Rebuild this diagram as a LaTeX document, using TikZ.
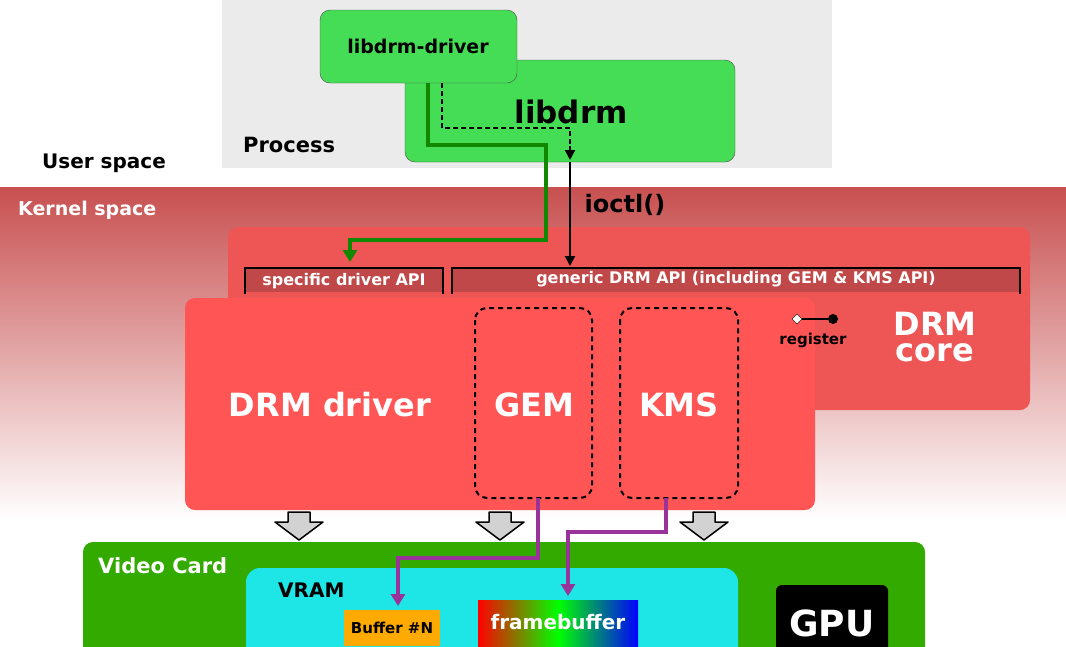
\documentclass[tikz,border=0pt]{standalone}
\usepackage{fontspec}
\setmainfont{DejaVu Sans}
\usetikzlibrary{arrows.meta,shapes.geometric}
\definecolor{ugray}{HTML}{EBEBEB}
\definecolor{lgreen}{HTML}{44DD55}
\definecolor{kred}{HTML}{C85050}
\definecolor{core}{HTML}{EE5555}
\definecolor{drv}{HTML}{FF5555}
\definecolor{bar}{HTML}{C04848}
\definecolor{vc}{HTML}{33AA00}
\definecolor{vram}{HTML}{1EE6E6}
\definecolor{buf}{HTML}{FFAA00}
\definecolor{purp}{HTML}{993399}
\definecolor{dgreen}{HTML}{118800}
\begin{document}
\begin{tikzpicture}[x=1pt,y=-1pt,font=\bfseries,
  box/.style={rounded corners=10pt},
  lbl/.style={inner sep=0pt,anchor=west},
  dbox/.style={draw=black,line width=2pt,dash pattern=on 5pt off 4pt,rounded corners=12pt},
  ga/.style={draw=black,line width=1.5pt,fill=gray!35,line join=round}]
\useasboundingbox (0,0) rectangle (1066,646);
\fill[white] (0,0) rectangle (1066,646);
\fill[ugray] (222,0) rectangle (832,168);
\shade[top color=kred,bottom color=white] (0,187) rectangle (1066,520);
\node[lbl,font=\bfseries\fontsize{20}{20}\selectfont] (us) at (42,163) {User space};
\node[lbl,white,font=\bfseries\fontsize{19}{19}\selectfont] (ks) at (18,210) {Kernel space};
\node[lbl,font=\bfseries\fontsize{21}{21}\selectfont] (proc) at (243,145) {Process};
% libdrm
\draw[box,fill=lgreen,draw=black!70] (405,60) rectangle (735,162);
\node[font=\bfseries\fontsize{31}{31}\selectfont] (libdrm) at (571,112) {libdrm};
\draw[box,fill=lgreen,draw=black!70] (320,10) rectangle (517,83);
\node[font=\bfseries\fontsize{19}{19}\selectfont] (ldd) at (418,46) {libdrm-driver};
% DRM core
\fill[core,rounded corners=10pt] (228,227) rectangle (1030,410);
\fill[bar] (245,268) rectangle (443,292);
\fill[bar] (452,268) rectangle (1020,292);
\draw[line width=2.5pt] (245,294) -- (245,268) -- (443,268) -- (443,294);
\draw[line width=2.5pt] (452,294) -- (452,268) -- (1020,268) -- (1020,294);
\node[white,font=\bfseries\fontsize{16}{16}\selectfont] (sapi) at (344,281) {specific driver API};
\node[white,font=\bfseries\fontsize{16}{16}\selectfont] (gapi) at (736,279) {generic DRM API (including GEM \& KMS API)};
\node[white,font=\bfseries\fontsize{32}{32}\selectfont] (core1) at (935,324) {DRM};
\node[white,font=\bfseries\fontsize{32}{32}\selectfont] (core2) at (935,353) {core};
% DRM driver
\fill[drv,rounded corners=10pt] (185,298) rectangle (815,510);
\node[white,font=\bfseries\fontsize{32}{32}\selectfont] (drvl) at (330,405) {DRM driver};
\draw[dbox] (475,308) rectangle (592,498);
\draw[dbox] (620,308) rectangle (738,498);
\node[white,font=\bfseries\fontsize{32}{32}\selectfont] (gem) at (534,405) {GEM};
\node[white,font=\bfseries\fontsize{32}{32}\selectfont] (kms) at (679,405) {KMS};
% register
\node[diamond,draw=black,fill=white,inner sep=0pt,minimum size=10pt] (dia) at (797,319) {};
\node[circle,fill=black,inner sep=0pt,minimum size=10pt] (cir) at (833,319) {};
\draw[line width=2.5pt] (dia) -- (cir);
\node[font=\bfseries\fontsize{15}{15}\selectfont] (reg) at (813,340) {register};
% arrows gray
\foreach \x in {299,500,704}
  \draw[ga] (\x-11,512) -- (\x+11,512) -- (\x+11,522) -- (\x+24,522) -- (\x,540) -- (\x-24,522) -- (\x-11,522) -- cycle;
% video card
\fill[vc,rounded corners=10pt] (83,542) rectangle (925,660);
\node[lbl,white,font=\bfseries\fontsize{21}{21}\selectfont] (vcl) at (98,566) {Video Card};
\fill[vram,rounded corners=14pt] (246,568) rectangle (738,670);
\node[lbl,font=\bfseries\fontsize{20}{20}\selectfont] (vr) at (278,590) {VRAM};
\fill[buf] (344,610) rectangle (440,646);
\node[font=\bfseries\fontsize{15}{15}\selectfont] (bn) at (392,628) {Buffer \#N};
\shade[left color=red,right color=blue,middle color=green] (478,600) rectangle (638,646);
\node[white,font=\bfseries\fontsize{20}{20}\selectfont] (fb) at (558,622) {framebuffer};
\fill[black,rounded corners=6pt] (776,585) rectangle (888,660);
\node[white,font=\bfseries\fontsize{36}{36}\selectfont,anchor=north] (gpu) at (832,606) {GPU};
% connectors
\coordinate (g0) at (428,83);
\coordinate (g3) at (350,262);
\draw[dgreen,line width=3.5pt,-{Triangle[length=12pt,width=14pt]}] (g0) -- (428,145) -- (546,145) -- (546,240) -- (350,240) -- (g3);
\coordinate (d0) at (442,83);
\coordinate (d1) at (570,160);
\draw[black,line width=2pt,dash pattern=on 5pt off 3pt] (d0) -- (442,128) -- (570,128) -- (570,148);
\draw[-{Triangle[length=10pt,width=10pt]},line width=2pt] (570,146) -- (d1);
\coordinate (i0) at (570,162);
\coordinate (i1) at (570,266);
\draw[line width=2pt,-{Triangle[length=10pt,width=10pt]}] (i0) -- (i1);
\node[font=\bfseries\fontsize{24}{24}\selectfont] (io) at (625,205) {ioctl()};
\coordinate (p0) at (538,498);
\coordinate (p1) at (398,606);
\draw[purp,line width=3.5pt,-{Triangle[length=12pt,width=14pt]}] (p0) -- (538,558) -- (398,558) -- (p1);
\coordinate (q0) at (666,498);
\coordinate (q1) at (568,596);
\draw[purp,line width=3.5pt,-{Triangle[length=12pt,width=14pt]}] (q0) -- (666,532) -- (568,532) -- (q1);
\end{tikzpicture}
\end{document}
